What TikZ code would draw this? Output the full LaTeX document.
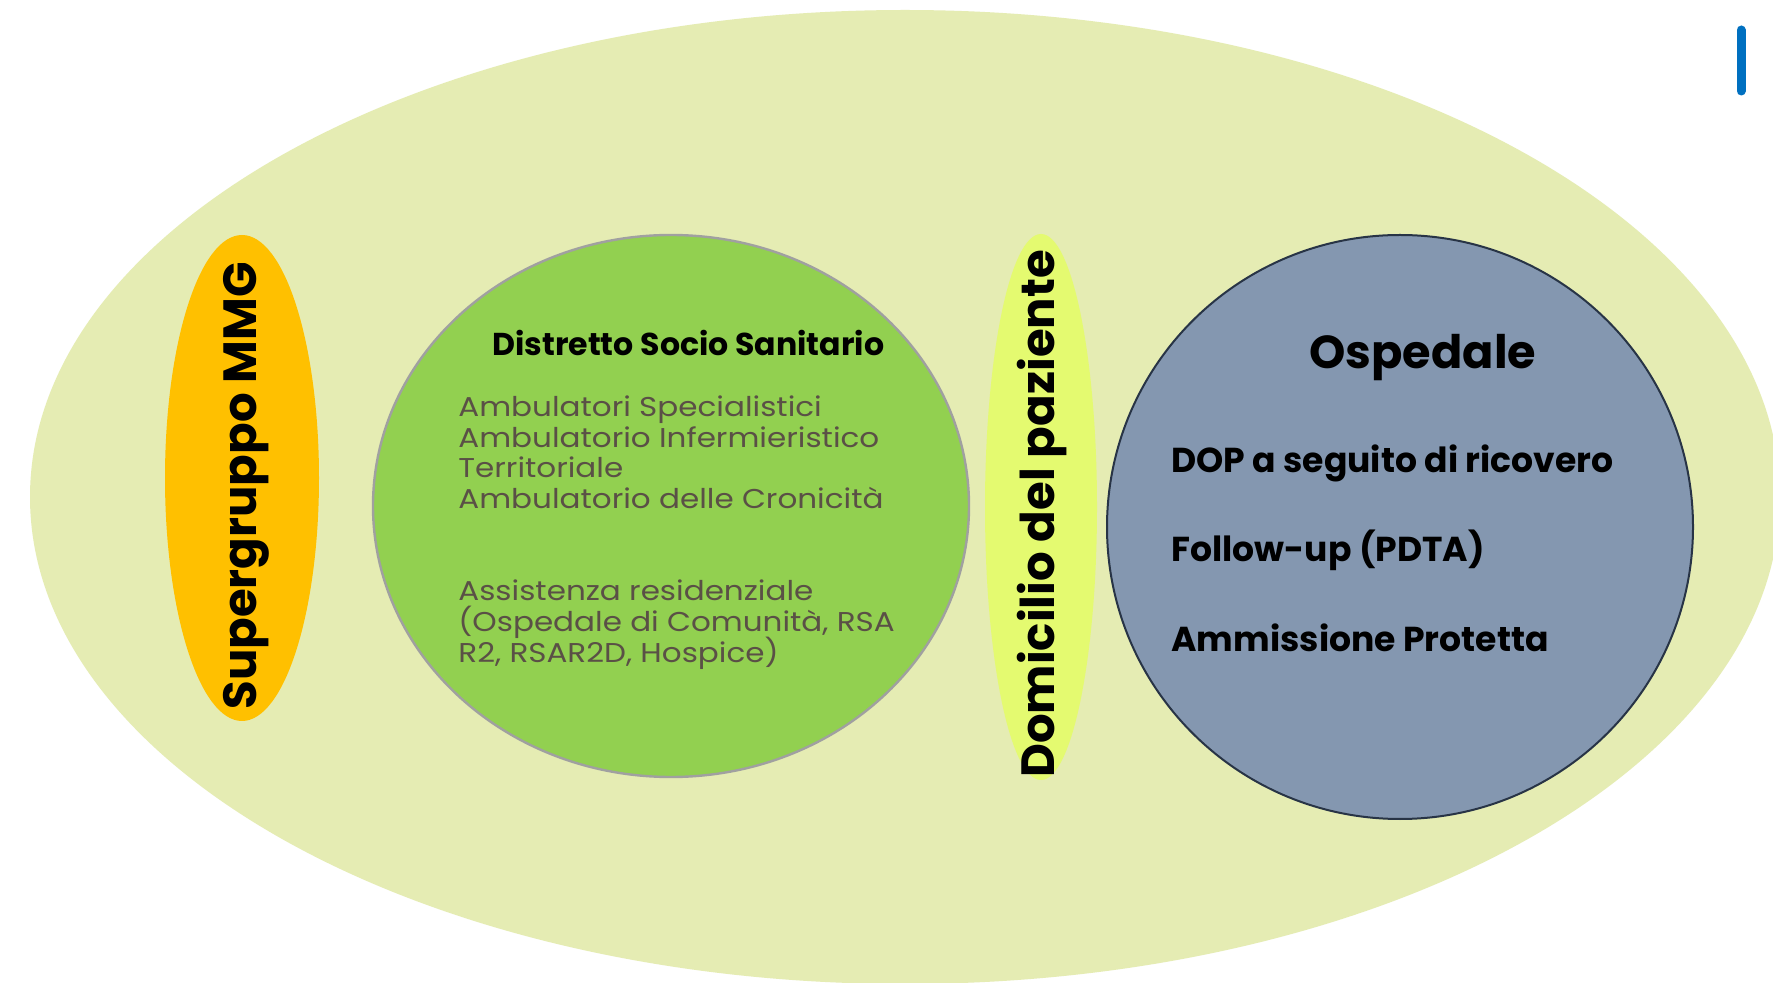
\documentclass[tikz,border=0pt]{standalone}
\usepackage{fontspec}
\setmainfont{Poppins}
\newfontfamily\widefont[FakeStretch=1.14]{Poppins}
\usetikzlibrary{shapes.geometric}
\definecolor{outerfill}{RGB}{229,236,179}
\definecolor{orangefill}{RGB}{255,192,0}
\definecolor{greenfill}{RGB}{146,208,80}
\definecolor{greenborder}{RGB}{160,160,160}
\definecolor{yellowfill}{RGB}{228,250,112}
\definecolor{bluefill}{RGB}{132,151,176}
\definecolor{blueborder}{RGB}{40,52,70}
\definecolor{graytext}{RGB}{90,80,70}
\definecolor{barblue}{RGB}{0,112,192}
\tikzset{
  blob/.style={ellipse, inner sep=0pt, outer sep=0pt},
  graylbl/.style={anchor=base west, inner sep=0pt, text=graytext, font=\widefont\fontsize{13.6}{16}\selectfont},
  boldlbl/.style={anchor=base west, inner sep=0pt, font=\bfseries\fontsize{17.3}{21}\selectfont},
  vertlbl/.style={rotate=90, anchor=base, inner sep=0pt, font=\bfseries\fontsize{23.3}{28}\selectfont}
}
\begin{document}
\begin{tikzpicture}[x=0.5pt,y=-0.5pt]
\useasboundingbox (0,0) rectangle (1773,983);
\fill[white] (0,0) rectangle (1773,983);
% outer ellipse
\node[blob, fill=outerfill, minimum width=875pt, minimum height=487pt] (outer) at (905,497) {};
% orange
\node[blob, fill=orangefill, minimum width=77pt, minimum height=243pt] (mmg) at (242,478) {};
% green
\node[blob, fill=greenfill, draw=greenborder, line width=1.2pt, minimum width=298pt, minimum height=271pt] (dss) at (671,506) {};
% yellow
\node[blob, fill=yellowfill, minimum width=56pt, minimum height=273pt] (dom) at (1041,507) {};
% blue
\node[blob, fill=bluefill, draw=blueborder, line width=1pt, minimum width=293pt, minimum height=292pt] (osp) at (1400,527) {};
% bar
\coordinate (bartop) at (1741,30);
\coordinate (barbot) at (1741,91);
\draw[barblue, line width=4.5pt, line cap=round] (bartop) -- (barbot);
% texts
\node[vertlbl] (tmmg) at (256,486) {Supergruppo MMG};
\node[vertlbl] (tdom) at (1054,514) {Domicilio del paziente};
\node[anchor=base west, inner sep=0pt, font=\bfseries\fontsize{15.8}{19}\selectfont] (tdss) at (492,356) {Distretto Socio Sanitario};
\node[graylbl] (g1) at (458,417) {Ambulatori Specialistici};
\node[graylbl] (g2) at (458,448) {Ambulatorio Infermieristico};
\node[graylbl] (g3) at (458,478) {Territoriale};
\node[graylbl] (g4) at (458,509) {Ambulatorio delle Cronicità};
\node[graylbl] (g5) at (458,601) {Assistenza residenziale};
\node[graylbl] (g6) at (458,632) {(Ospedale di Comunità, RSA};
\node[graylbl] (g7) at (458,663) {R2, RSAR2D, Hospice)};
\node[anchor=base west, inner sep=0pt, font=\bfseries\fontsize{23.1}{27}\selectfont] (tosp) at (1309,369) {Ospedale};
\node[boldlbl] (b1) at (1171,473) {DOP a seguito di ricovero};
\node[boldlbl] (b2) at (1171,562) {Follow-up (PDTA)};
\node[boldlbl] (b3) at (1171,652) {Ammissione Protetta};
\end{tikzpicture}
\end{document}
